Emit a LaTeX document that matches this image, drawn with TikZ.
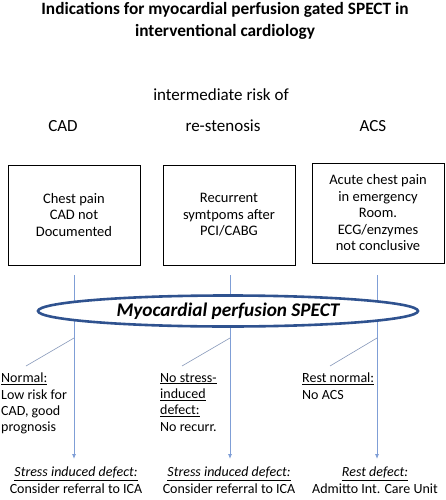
\documentclass[tikz,border=0pt]{standalone}
\usepackage{fontspec}
\setmainfont{Carlito}
\usetikzlibrary{arrows.meta,shapes.geometric}
\definecolor{linkblue}{HTML}{7F9ED6}
\definecolor{ringblue}{HTML}{2F528F}
\definecolor{slant}{HTML}{8496B8}
\tikzset{
  box/.style={draw=black, thick, minimum width=132pt, minimum height=100pt, align=center, font=\fontsize{14.5}{16.5}\selectfont},
  txt/.style={align=left, anchor=north west, inner sep=0pt, font=\fontsize{14}{16.3}\selectfont},
  res/.style={align=center, anchor=north, inner sep=0pt, font=\fontsize{14}{17}\selectfont},
  head/.style={font=\fontsize{17}{20}\selectfont},
  link/.style={draw=linkblue, line width=0.8pt},
  arr/.style={link, -{Latex[length=5pt,width=4pt]}},
  slantline/.style={draw=slant, line width=0.6pt}
}
\begin{document}
\begin{tikzpicture}[x=1pt,y=-1pt]
\useasboundingbox (0,0) rectangle (446,500);
\node[align=center, font=\fontsize{17.3}{22}\bfseries\selectfont] (title) at (225,21) {Indications for myocardial perfusion gated SPECT in\\interventional cardiology};
\node[head] (risk) at (221,95) {intermediate risk of};
\node[head] (cad) at (63,126) {CAD};
\node[head] (rest) at (223,126) {re-stenosis};
\node[head] (acs) at (373,126) {ACS};
\node[box] (b1) at (74,215) {Chest pain\\CAD not\\Documented};
\node[box] (b2) at (229,215) {Recurrent\\symtpoms after\\PCI/CABG};
\node[box] (b3) at (378,213) {Acute chest pain\\in emergency\\Room.\\ECG/enzymes\\not conclusive};
\coordinate (t1) at (74,275);
\coordinate (t2) at (230,275);
\coordinate (t3) at (377,275);
\coordinate (e1) at (74,459);
\coordinate (e2) at (230,459);
\coordinate (e3) at (377,459);
\draw[arr] (t1) -- (e1);
\draw[arr] (t2) -- (e2);
\draw[arr] (t3) -- (e3);
\node[ellipse, draw=ringblue, line width=2.6pt, fill=white, minimum width=380pt, minimum height=31pt, inner sep=0pt, font=\fontsize{19.3}{22}\bfseries\itshape\selectfont] (spect) at (228,311) {Myocardial perfusion SPECT};
\coordinate (s1) at (74,338);
\coordinate (s2) at (230,338);
\coordinate (s3) at (377,338);
\coordinate (n1) at (26,366);
\coordinate (n2) at (182,366);
\coordinate (n3) at (330,366);
\draw[slantline] (s1) -- (n1);
\draw[slantline] (s2) -- (n2);
\draw[slantline] (s3) -- (n3);
\node[txt] (normal) at (1,373) {\underline{Normal:}\\Low risk for\\CAD, good\\prognosis};
\node[txt] (nostress) at (160,373) {\underline{No stress-}\\\underline{induced}\\\underline{defect:}\\No recurr.};
\node[txt] (restn) at (302,373) {\underline{Rest normal:}\\No ACS};
\node[res] (r1) at (76,467) {\underline{\itshape Stress induced defect:}\\Consider referral to ICA};
\node[res] (r2) at (229,467) {\underline{\itshape Stress induced defect:}\\Consider referral to ICA};
\node[res] (r3) at (375,467) {\underline{\itshape Rest defect:}\\Admitto Int. Care Unit};
\end{tikzpicture}
\end{document}
